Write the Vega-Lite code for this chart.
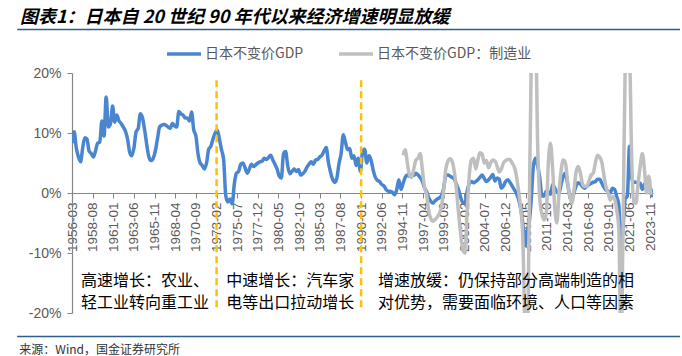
{
 "$schema": "https://vega.github.io/schema/vega-lite/v6.json",
 "width": 581, "height": 240,
 "autosize": {"type": "none"},
 "padding": {"left": 72, "top": 73, "right": 29, "bottom": 43},
 "background": "white",
 "title": {"text": "图表1：日本自 20 世纪 90 年代以来经济增速明显放缓", "anchor": "start", "frame": "group", "dx": -52, "offset": 2, "fontSize": 18, "fontStyle": "italic", "fontWeight": "bold", "font": "Noto Sans CJK SC", "color": "#000000"},
 "config": {"view": {"stroke": null}, "font": "Liberation Sans", "axisX": {"labelOverlap": false, "labelSeparation": 0}},
 "datasets": {
  "gdp": [
   {"date":"1956-03-01","value":8.3},{"date":"1956-06-01","value":10.2},{"date":"1956-09-01","value":7.5},{"date":"1956-12-01","value":6.0},
   {"date":"1957-03-01","value":5.2},{"date":"1957-06-01","value":7.5},{"date":"1957-09-01","value":9.2},{"date":"1957-12-01","value":9.0},
   {"date":"1958-03-01","value":7.0},{"date":"1958-06-01","value":6.6},{"date":"1958-09-01","value":6.0},{"date":"1958-12-01","value":7.0},
   {"date":"1959-03-01","value":8.3},{"date":"1959-06-01","value":8.5},{"date":"1959-09-01","value":12.0},{"date":"1959-12-01","value":9.5},
   {"date":"1960-03-01","value":16.0},{"date":"1960-06-01","value":11.0},{"date":"1960-09-01","value":11.5},{"date":"1960-12-01","value":14.5},
   {"date":"1961-03-01","value":11.8},{"date":"1961-06-01","value":13.0},{"date":"1961-09-01","value":12.0},{"date":"1961-12-01","value":11.6},
   {"date":"1962-03-01","value":11.0},{"date":"1962-06-01","value":10.3},{"date":"1962-09-01","value":9.0},{"date":"1962-12-01","value":6.8},
   {"date":"1963-03-01","value":6.2},{"date":"1963-06-01","value":7.5},{"date":"1963-09-01","value":10.2},{"date":"1963-12-01","value":10.8},
   {"date":"1964-03-01","value":13.2},{"date":"1964-06-01","value":12.5},{"date":"1964-09-01","value":10.5},{"date":"1964-12-01","value":8.0},
   {"date":"1965-03-01","value":6.0},{"date":"1965-06-01","value":5.4},{"date":"1965-09-01","value":5.8},{"date":"1965-12-01","value":7.0},
   {"date":"1966-03-01","value":9.0},{"date":"1966-06-01","value":11.0},{"date":"1966-09-01","value":11.3},{"date":"1966-12-01","value":11.4},
   {"date":"1967-03-01","value":11.3},{"date":"1967-06-01","value":11.0},{"date":"1967-09-01","value":10.8},{"date":"1967-12-01","value":11.6},
   {"date":"1968-03-01","value":11.2},{"date":"1968-06-01","value":11.0},{"date":"1968-09-01","value":13.6},{"date":"1968-12-01","value":13.2},
   {"date":"1969-03-01","value":13.0},{"date":"1969-06-01","value":12.5},{"date":"1969-09-01","value":12.5},{"date":"1969-12-01","value":12.0},
   {"date":"1970-03-01","value":13.5},{"date":"1970-06-01","value":10.5},{"date":"1970-09-01","value":9.5},{"date":"1970-12-01","value":6.5},
   {"date":"1971-03-01","value":5.0},{"date":"1971-06-01","value":4.6},{"date":"1971-09-01","value":4.0},{"date":"1971-12-01","value":5.0},
   {"date":"1972-03-01","value":7.3},{"date":"1972-06-01","value":7.8},{"date":"1972-09-01","value":9.0},{"date":"1972-12-01","value":10.0},
   {"date":"1973-03-01","value":10.5},{"date":"1973-06-01","value":9.0},{"date":"1973-09-01","value":7.2},{"date":"1973-12-01","value":5.5},
   {"date":"1974-03-01","value":-0.5},{"date":"1974-06-01","value":-1.5},{"date":"1974-09-01","value":-1.0},{"date":"1974-12-01","value":-1.8},
   {"date":"1975-03-01","value":1.5},{"date":"1975-06-01","value":3.3},{"date":"1975-09-01","value":3.6},{"date":"1975-12-01","value":4.8},
   {"date":"1976-03-01","value":5.0},{"date":"1976-06-01","value":4.2},{"date":"1976-09-01","value":3.3},{"date":"1976-12-01","value":4.0},
   {"date":"1977-03-01","value":4.8},{"date":"1977-06-01","value":4.4},{"date":"1977-09-01","value":4.7},{"date":"1977-12-01","value":5.0},
   {"date":"1978-03-01","value":5.2},{"date":"1978-06-01","value":5.3},{"date":"1978-09-01","value":5.8},{"date":"1978-12-01","value":5.6},
   {"date":"1979-03-01","value":5.9},{"date":"1979-06-01","value":6.3},{"date":"1979-09-01","value":5.5},{"date":"1979-12-01","value":4.8},
   {"date":"1980-03-01","value":4.0},{"date":"1980-06-01","value":2.8},{"date":"1980-09-01","value":2.5},{"date":"1980-12-01","value":6.5},
   {"date":"1981-03-01","value":6.9},{"date":"1981-06-01","value":4.5},{"date":"1981-09-01","value":3.2},{"date":"1981-12-01","value":3.6},
   {"date":"1982-03-01","value":4.0},{"date":"1982-06-01","value":3.6},{"date":"1982-09-01","value":3.9},{"date":"1982-12-01","value":3.0},
   {"date":"1983-03-01","value":3.2},{"date":"1983-06-01","value":3.6},{"date":"1983-09-01","value":4.3},{"date":"1983-12-01","value":4.8},
   {"date":"1984-03-01","value":5.2},{"date":"1984-06-01","value":4.8},{"date":"1984-09-01","value":5.5},{"date":"1984-12-01","value":5.6},
   {"date":"1985-03-01","value":6.0},{"date":"1985-06-01","value":6.3},{"date":"1985-09-01","value":7.0},{"date":"1985-12-01","value":7.6},
   {"date":"1986-03-01","value":5.2},{"date":"1986-06-01","value":3.5},{"date":"1986-09-01","value":2.3},{"date":"1986-12-01","value":1.8},
   {"date":"1987-03-01","value":2.5},{"date":"1987-06-01","value":4.9},{"date":"1987-09-01","value":6.6},{"date":"1987-12-01","value":9.7},
   {"date":"1988-03-01","value":8.5},{"date":"1988-06-01","value":7.2},{"date":"1988-09-01","value":7.4},{"date":"1988-12-01","value":5.8},
   {"date":"1989-03-01","value":6.2},{"date":"1989-06-01","value":4.6},{"date":"1989-09-01","value":5.8},{"date":"1989-12-01","value":3.6},
   {"date":"1990-03-01","value":6.8},{"date":"1990-06-01","value":7.3},{"date":"1990-09-01","value":5.0},{"date":"1990-12-01","value":6.2},
   {"date":"1991-03-01","value":5.5},{"date":"1991-06-01","value":3.8},{"date":"1991-09-01","value":2.6},{"date":"1991-12-01","value":2.1},
   {"date":"1992-03-01","value":1.9},{"date":"1992-06-01","value":1.4},{"date":"1992-09-01","value":1.2},{"date":"1992-12-01","value":0.6},
   {"date":"1993-03-01","value":0.3},{"date":"1993-06-01","value":0.3},{"date":"1993-09-01","value":0.1},{"date":"1993-12-01","value":-0.3},
   {"date":"1994-03-01","value":0.5},{"date":"1994-06-01","value":2.2},{"date":"1994-09-01","value":0.6},{"date":"1994-12-01","value":1.6},
   {"date":"1995-03-01","value":2.6},{"date":"1995-06-01","value":3.0},{"date":"1995-09-01","value":2.8},{"date":"1995-12-01","value":3.0},
   {"date":"1996-03-01","value":2.9},{"date":"1996-06-01","value":3.3},{"date":"1996-09-01","value":3.0},{"date":"1996-12-01","value":2.6},
   {"date":"1997-03-01","value":2.0},{"date":"1997-06-01","value":0.9},{"date":"1997-09-01","value":0.2},{"date":"1997-12-01","value":-0.8},
   {"date":"1998-03-01","value":-1.4},{"date":"1998-06-01","value":-1.7},{"date":"1998-09-01","value":-1.3},{"date":"1998-12-01","value":-1.0},
   {"date":"1999-03-01","value":-0.8},{"date":"1999-06-01","value":-0.4},{"date":"1999-09-01","value":0.8},{"date":"1999-12-01","value":3.0},
   {"date":"2000-03-01","value":3.0},{"date":"2000-06-01","value":2.8},{"date":"2000-09-01","value":2.6},{"date":"2000-12-01","value":2.3},
   {"date":"2001-03-01","value":1.4},{"date":"2001-06-01","value":0.5},{"date":"2001-09-01","value":-0.8},{"date":"2001-12-01","value":-1.6},
   {"date":"2002-03-01","value":-1.7},{"date":"2002-06-01","value":0.3},{"date":"2002-09-01","value":1.6},{"date":"2002-12-01","value":1.9},
   {"date":"2003-03-01","value":1.7},{"date":"2003-06-01","value":1.9},{"date":"2003-09-01","value":2.2},{"date":"2003-12-01","value":2.6},
   {"date":"2004-03-01","value":3.0},{"date":"2004-06-01","value":2.4},{"date":"2004-09-01","value":1.9},{"date":"2004-12-01","value":2.2},
   {"date":"2005-03-01","value":2.6},{"date":"2005-06-01","value":3.1},{"date":"2005-09-01","value":2.0},{"date":"2005-12-01","value":2.5},
   {"date":"2006-03-01","value":2.3},{"date":"2006-06-01","value":0.8},{"date":"2006-09-01","value":1.2},{"date":"2006-12-01","value":1.9},
   {"date":"2007-03-01","value":2.2},{"date":"2007-06-01","value":1.8},{"date":"2007-09-01","value":1.2},{"date":"2007-12-01","value":0.6},
   {"date":"2008-03-01","value":0.0},{"date":"2008-06-01","value":-1.0},{"date":"2008-09-01","value":-2.5},{"date":"2008-12-01","value":-5.0},
   {"date":"2009-03-01","value":-8.8},{"date":"2009-06-01","value":-6.5},{"date":"2009-09-01","value":-5.0},{"date":"2009-12-01","value":-1.0},
   {"date":"2010-03-01","value":4.5},{"date":"2010-06-01","value":5.8},{"date":"2010-09-01","value":4.5},{"date":"2010-12-01","value":2.5},
   {"date":"2011-03-01","value":-0.5},{"date":"2011-06-01","value":-0.5},{"date":"2011-09-01","value":0.3},{"date":"2011-12-01","value":0.2},
   {"date":"2012-03-01","value":-0.2},{"date":"2012-06-01","value":1.4},{"date":"2012-09-01","value":0.8},{"date":"2012-12-01","value":0.2},
   {"date":"2013-03-01","value":0.0},{"date":"2013-06-01","value":1.5},{"date":"2013-09-01","value":2.8},{"date":"2013-12-01","value":3.3},
   {"date":"2014-03-01","value":1.6},{"date":"2014-06-01","value":-0.4},{"date":"2014-09-01","value":-1.1},{"date":"2014-12-01","value":0.0},
   {"date":"2015-03-01","value":1.2},{"date":"2015-06-01","value":1.7},{"date":"2015-09-01","value":1.5},{"date":"2015-12-01","value":1.1},
   {"date":"2016-03-01","value":0.8},{"date":"2016-06-01","value":1.1},{"date":"2016-09-01","value":1.4},{"date":"2016-12-01","value":1.6},
   {"date":"2017-03-01","value":1.8},{"date":"2017-06-01","value":1.9},{"date":"2017-09-01","value":2.3},{"date":"2017-12-01","value":2.3},
   {"date":"2018-03-01","value":1.7},{"date":"2018-06-01","value":1.0},{"date":"2018-09-01","value":0.5},{"date":"2018-12-01","value":0.3},
   {"date":"2019-03-01","value":0.0},{"date":"2019-06-01","value":0.8},{"date":"2019-09-01","value":0.6},{"date":"2019-12-01","value":-0.6},
   {"date":"2020-03-01","value":-2.0},{"date":"2020-06-01","value":-9.8},{"date":"2020-09-01","value":-5.5},{"date":"2020-12-01","value":-0.9},
   {"date":"2021-03-01","value":-0.5},{"date":"2021-06-01","value":7.8},{"date":"2021-09-01","value":2.5},{"date":"2021-12-01","value":1.8},
   {"date":"2022-03-01","value":1.8},{"date":"2022-06-01","value":1.7},{"date":"2022-09-01","value":1.6},{"date":"2022-12-01","value":0.6},
   {"date":"2023-03-01","value":1.4},{"date":"2023-06-01","value":1.9},{"date":"2023-09-01","value":1.4},{"date":"2023-12-01","value":0.6},
   {"date":"2024-03-01","value":-0.7}
  ],
  "mfg": [
   {"date":"1994-12-01","value":6.3},
   {"date":"1995-03-01","value":7.2},{"date":"1995-06-01","value":5.0},{"date":"1995-09-01","value":3.0},{"date":"1995-12-01","value":2.6},
   {"date":"1996-03-01","value":4.0},{"date":"1996-06-01","value":5.5},{"date":"1996-09-01","value":5.8},{"date":"1996-12-01","value":6.6},
   {"date":"1997-03-01","value":4.0},{"date":"1997-06-01","value":1.0},{"date":"1997-09-01","value":-0.3},{"date":"1997-12-01","value":-3.0},
   {"date":"1998-03-01","value":-4.3},{"date":"1998-06-01","value":-4.7},{"date":"1998-09-01","value":-4.4},{"date":"1998-12-01","value":-4.0},
   {"date":"1999-03-01","value":-3.4},{"date":"1999-06-01","value":-2.2},{"date":"1999-09-01","value":0.5},{"date":"1999-12-01","value":4.0},
   {"date":"2000-03-01","value":5.3},{"date":"2000-06-01","value":5.7},{"date":"2000-09-01","value":5.2},{"date":"2000-12-01","value":3.5},
   {"date":"2001-03-01","value":0.5},{"date":"2001-06-01","value":-3.5},{"date":"2001-09-01","value":-7.0},{"date":"2001-12-01","value":-9.5},
   {"date":"2002-03-01","value":-10.0},{"date":"2002-06-01","value":-3.0},{"date":"2002-09-01","value":3.0},{"date":"2002-12-01","value":5.5},
   {"date":"2003-03-01","value":5.8},{"date":"2003-06-01","value":4.0},{"date":"2003-09-01","value":5.5},{"date":"2003-12-01","value":6.7},
   {"date":"2004-03-01","value":6.5},{"date":"2004-06-01","value":5.0},{"date":"2004-09-01","value":5.4},{"date":"2004-12-01","value":4.2},
   {"date":"2005-03-01","value":5.0},{"date":"2005-06-01","value":5.5},{"date":"2005-09-01","value":5.3},{"date":"2005-12-01","value":4.5},
   {"date":"2006-03-01","value":3.5},{"date":"2006-06-01","value":4.0},{"date":"2006-09-01","value":5.0},{"date":"2006-12-01","value":5.4},
   {"date":"2007-03-01","value":5.6},{"date":"2007-06-01","value":5.6},{"date":"2007-09-01","value":5.0},{"date":"2007-12-01","value":4.4},
   {"date":"2008-03-01","value":3.0},{"date":"2008-06-01","value":0.5},{"date":"2008-09-01","value":-2.5},{"date":"2008-12-01","value":-7.0},
   {"date":"2009-03-01","value":-22.0},{"date":"2009-06-01","value":-28.0},{"date":"2009-09-01","value":-5.0},{"date":"2009-12-01","value":22.0},
   {"date":"2010-03-01","value":30.0},{"date":"2010-06-01","value":28.0},{"date":"2010-09-01","value":8.0},{"date":"2010-12-01","value":-1.0},
   {"date":"2011-03-01","value":-3.5},{"date":"2011-06-01","value":-4.5},{"date":"2011-09-01","value":-3.5},{"date":"2011-12-01","value":5.0},
   {"date":"2012-03-01","value":8.3},{"date":"2012-06-01","value":4.0},{"date":"2012-09-01","value":-2.5},{"date":"2012-12-01","value":-5.0},
   {"date":"2013-03-01","value":0.0},{"date":"2013-06-01","value":3.8},{"date":"2013-09-01","value":5.5},{"date":"2013-12-01","value":5.0},
   {"date":"2014-03-01","value":2.0},{"date":"2014-06-01","value":-0.5},{"date":"2014-09-01","value":-1.7},{"date":"2014-12-01","value":0.5},
   {"date":"2015-03-01","value":3.5},{"date":"2015-06-01","value":4.4},{"date":"2015-09-01","value":3.3},{"date":"2015-12-01","value":1.5},
   {"date":"2016-03-01","value":1.1},{"date":"2016-06-01","value":1.1},{"date":"2016-09-01","value":2.0},{"date":"2016-12-01","value":3.0},
   {"date":"2017-03-01","value":3.3},{"date":"2017-06-01","value":5.0},{"date":"2017-09-01","value":6.3},{"date":"2017-12-01","value":6.0},
   {"date":"2018-03-01","value":5.2},{"date":"2018-06-01","value":3.0},{"date":"2018-09-01","value":1.0},{"date":"2018-12-01","value":0.0},
   {"date":"2019-03-01","value":-1.2},{"date":"2019-06-01","value":-0.6},{"date":"2019-09-01","value":-1.0},{"date":"2019-12-01","value":-2.8},
   {"date":"2020-03-01","value":-6.0},{"date":"2020-06-01","value":-26.0},{"date":"2020-09-01","value":-5.0},{"date":"2020-12-01","value":22.0},
   {"date":"2021-03-01","value":28.0},{"date":"2021-06-01","value":24.0},{"date":"2021-09-01","value":6.0},{"date":"2021-12-01","value":-1.5},
   {"date":"2022-03-01","value":-1.7},{"date":"2022-06-01","value":1.5},{"date":"2022-09-01","value":4.5},{"date":"2022-12-01","value":6.6},
   {"date":"2023-03-01","value":4.0},{"date":"2023-06-01","value":0.0},{"date":"2023-09-01","value":2.8},{"date":"2023-12-01","value":-0.3}
  ],
  "breaks": [{"date":"1973-02-01"},{"date":"1990-01-01"}]
 },
 "layer": [
  {
   "data": {"name": "gdp"},
   "mark": {"type": "line", "color": "#4A86D0", "strokeWidth": 3.5, "interpolate": "monotone", "clip": true},
   "encoding": {
    "x": {"field": "date", "type": "temporal",
          "scale": {"type": "utc", "nice": false, "domain": [{"year":1956,"month":3,"date":1,"utc":true},{"year":2024,"month":3,"date":1,"utc":true}]},
          "axis": {"title": null, "grid": false, "offset": -120, "labelExpr": "utcFormat(datum.value, '%Y-%m')", "labelAngle": 270, "labelOverlap": false, "labelSeparation": 0, "labelFlush": false, "labelBound": false, "tickCount": 60,
                   "labelFontSize": 13.5, "labelColor": "#595959", "labelFont": "Liberation Sans", "labelPadding": 4, "tickSize": 5, "tickColor": "#868686", "domainColor": "#868686", "domainWidth": 1.2,
                   "values": [
                    {"year":1956,"month":3,"date":1,"utc":true},{"year":1958,"month":8,"date":1,"utc":true},{"year":1961,"month":1,"date":1,"utc":true},{"year":1963,"month":6,"date":1,"utc":true},
                    {"year":1965,"month":11,"date":1,"utc":true},{"year":1968,"month":4,"date":1,"utc":true},{"year":1970,"month":9,"date":1,"utc":true},{"year":1973,"month":2,"date":1,"utc":true},
                    {"year":1975,"month":7,"date":1,"utc":true},{"year":1977,"month":12,"date":1,"utc":true},{"year":1980,"month":5,"date":1,"utc":true},{"year":1982,"month":10,"date":1,"utc":true},
                    {"year":1985,"month":3,"date":1,"utc":true},{"year":1987,"month":8,"date":1,"utc":true},{"year":1990,"month":1,"date":1,"utc":true},{"year":1992,"month":6,"date":1,"utc":true},
                    {"year":1994,"month":11,"date":1,"utc":true},{"year":1997,"month":4,"date":1,"utc":true},{"year":1999,"month":9,"date":1,"utc":true},{"year":2002,"month":2,"date":1,"utc":true},
                    {"year":2004,"month":7,"date":1,"utc":true},{"year":2006,"month":12,"date":1,"utc":true},{"year":2009,"month":5,"date":1,"utc":true},{"year":2011,"month":10,"date":1,"utc":true},
                    {"year":2014,"month":3,"date":1,"utc":true},{"year":2016,"month":8,"date":1,"utc":true},{"year":2019,"month":1,"date":1,"utc":true},{"year":2021,"month":6,"date":1,"utc":true},
                    {"year":2023,"month":11,"date":1,"utc":true}
                   ]}},
    "y": {"field": "value", "type": "quantitative",
          "scale": {"domain": [-20, 20], "nice": false, "zero": false},
          "axis": {"title": null, "grid": false, "values": [-20,-15,-10,-5,0,5,10,15,20], "labelExpr": "datum.value + '%'",
                   "labelFontSize": 14, "labelColor": "#595959", "labelFont": "Liberation Sans", "labelPadding": 6, "tickSize": 5, "tickColor": "#868686", "domainColor": "#868686", "domainWidth": 1.2}},
    "color": {"datum": "日本不变价GDP", "type": "nominal",
              "scale": {"domain": ["日本不变价GDP", "日本不变价GDP：制造业"], "range": ["#4A86D0", "#BFBFBF"]},
              "legend": {"orient": "none", "legendX": 93, "legendY": -38, "direction": "horizontal", "title": null,
                         "symbolType": "stroke", "symbolSize": 1156, "symbolStrokeWidth": 3.5, "labelFontSize": 14, "labelColor": "#595959",
                         "labelFont": "Noto Sans CJK SC", "columnPadding": 28, "labelOffset": 2}}
   }
  },
  {
   "data": {"name": "mfg"},
   "mark": {"type": "line", "color": "#BFBFBF", "strokeWidth": 3.5, "interpolate": "monotone", "clip": true},
   "encoding": {
    "x": {"field": "date", "type": "temporal"},
    "y": {"field": "value", "type": "quantitative"},
    "color": {"datum": "日本不变价GDP：制造业", "type": "nominal"}
   }
  },
  {
   "data": {"name": "breaks"},
   "mark": {"type": "rule", "color": "#FFC000", "strokeWidth": 2.5, "strokeDash": [7, 4]},
   "encoding": {
    "x": {"field": "date", "type": "temporal"},
    "y": {"datum": 18.8, "type": "quantitative"},
    "y2": {"datum": -19.3}
   }
  },
  {
   "data": {"values": [{}]},
   "mark": {"type": "rule", "color": "#2E5E8C", "strokeWidth": 1.5},
   "encoding": {
    "x": {"datum": {"year":1949,"month":10,"date":1,"utc":true}, "type": "temporal"},
    "x2": {"datum": {"year":2027,"month":5,"date":1,"utc":true}},
    "y": {"datum": 27.25, "type": "quantitative"}
   }
  },
  {
   "data": {"values": [{}]},
   "mark": {"type": "rule", "color": "#2E5E8C", "strokeWidth": 1.5},
   "encoding": {
    "x": {"datum": {"year":1949,"month":10,"date":1,"utc":true}, "type": "temporal"},
    "x2": {"datum": {"year":2027,"month":5,"date":1,"utc":true}},
    "y": {"datum": -23.92, "type": "quantitative"}
   }
  },
  {
   "data": {"values": [{}]},
   "mark": {"type": "text", "align": "left", "baseline": "middle", "font": "Noto Sans CJK SC", "fontSize": 12, "color": "#333333"},
   "encoding": {
    "x": {"datum": {"year":1950,"month":1,"date":1,"utc":true}, "type": "temporal"},
    "y": {"datum": -26.17, "type": "quantitative"},
    "text": {"value": "来源：Wind，国金证券研究所"}
   }
  },
  {
   "data": {"values": [{}]},
   "mark": {"type": "text", "align": "left", "baseline": "top", "font": "Noto Sans CJK SC", "fontSize": 16, "lineHeight": 22, "color": "#000000"},
   "encoding": {
    "x": {"datum": {"year":1957,"month":3,"date":19,"utc":true}, "type": "temporal"},
    "y": {"datum": -13.3, "type": "quantitative"},
    "text": {"value": ["高速增长：农业、", "轻工业转向重工业"]}
   }
  },
  {
   "data": {"values": [{}]},
   "mark": {"type": "text", "align": "left", "baseline": "top", "font": "Noto Sans CJK SC", "fontSize": 16, "lineHeight": 22, "color": "#000000"},
   "encoding": {
    "x": {"datum": {"year":1974,"month":3,"date":22,"utc":true}, "type": "temporal"},
    "y": {"datum": -13.3, "type": "quantitative"},
    "text": {"value": ["中速增长：汽车家", "电等出口拉动增长"]}
   }
  },
  {
   "data": {"values": [{}]},
   "mark": {"type": "text", "align": "left", "baseline": "top", "font": "Noto Sans CJK SC", "fontSize": 16, "lineHeight": 22, "color": "#000000"},
   "encoding": {
    "x": {"datum": {"year":1991,"month":12,"date":25,"utc":true}, "type": "temporal"},
    "y": {"datum": -13.3, "type": "quantitative"},
    "text": {"value": ["增速放缓：仍保持部分高端制造的相", "对优势，需要面临环境、人口等因素"]}
   }
  }
 ]
}
